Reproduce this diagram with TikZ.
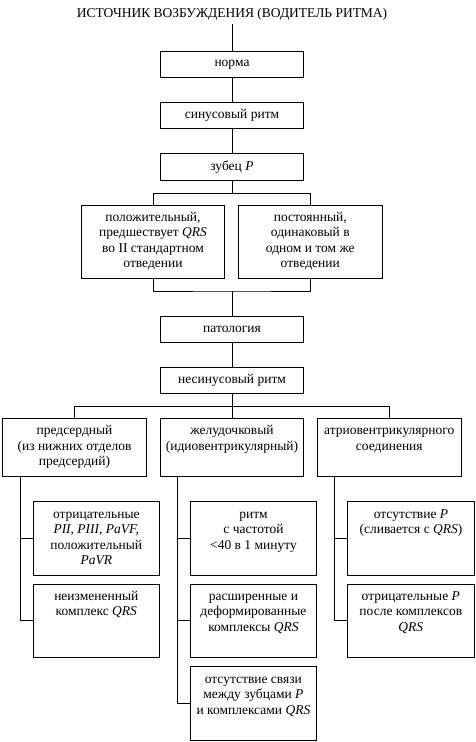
\documentclass[tikz,border=0pt]{standalone}
\usepackage{fontspec}
\setmainfont{Liberation Serif}
\newcommand\tb[3]{\parbox[c][#2pt][t]{#1pt}{\centering\vspace*{5.5pt}\strut #3\par}}
\begin{document}
\begin{tikzpicture}[x=1pt,y=-1pt,
  box/.style={draw, line width=0.8pt, inner sep=0pt},
  sbox/.style={box, minimum width=142.6pt, minimum height=26.5pt},
  ln/.style={line width=0.8pt},
  font=\fontsize{13.5}{15.5}\selectfont]
\useasboundingbox (0,0) rectangle (476,742);

\node (title) at (232,14.5) {ИСТОЧНИК ВОЗБУЖДЕНИЯ (ВОДИТЕЛЬ РИТМА)};
\node[sbox] (norma) at (232,64.35) {норма};
\node[sbox] (sinus) at (232,115.15) {синусовый ритм};
\node[sbox] (zubec) at (232,166.65) {зубец \textit{P}};
\node[box] (pol) at (153,241.65) {\tb{142.6}{73.3}{положительный,\\предшествует \textit{QRS}\\во II стандартном\\отведении}};
\node[box] (post) at (310.3,241.65) {\tb{144}{73.3}{постоянный,\\одинаковый в\\одном и том же\\отведении}};
\node[sbox] (pat) at (232,329.15) {патология};
\node[sbox] (nesin) at (232,380.3) {несинусовый ритм};
\node[box] (pred) at (74.5,447.3) {\tb{144.4}{58}{предсердный\\(из нижних отделов\\предсердий)}};
\node[box] (zhel) at (232,447.3) {\tb{143}{58}{желудочковый\\(идиовентрикулярный)}};
\node[box] (atrio) at (389.3,447.3) {\tb{144}{58}{атриовентрикулярного\\соединения}};
\node[box] (otr) at (96.3,538.35) {\tb{126}{73.3}{отрицательные\\\textit{PII, PIII, PaVF,}\\положительный\\\textit{PaVR}}};
\node[box] (neizm) at (96.3,620.65) {\tb{126}{73.3}{неизмененный\\комплекс \textit{QRS}}};
\node[box] (ritm) at (253.5,538.35) {\tb{126.4}{73.3}{ритм\\с частотой\\<40 в 1 минуту}};
\node[box] (rassh) at (253.4,620.65) {\tb{126.2}{73.3}{расширенные и\\деформированные\\комплексы \textit{QRS}}};
\node[box] (otsv) at (253.4,703.35) {\tb{126.2}{73.3}{отсутствие связи\\между зубцами \textit{P}\\и комплексами \textit{QRS}}};
\node[box] (otsP) at (411,538.35) {\tb{126.6}{73.3}{отсутствие \textit{P}\\(сливается с \textit{QRS})}};
\node[box] (otrP) at (410.8,620.65) {\tb{127}{73.3}{отрицательные \textit{P}\\после комплексов\\\textit{QRS}}};

\draw[ln] (title.south) -- (norma.north);
\draw[ln] (norma) -- (sinus);
\draw[ln] (sinus) -- (zubec);
\draw[ln] (zubec.south) -- ++(0,13) coordinate (j1);
\draw[ln] (pol.north) |- (j1) -| (post.north);
\coordinate (j2) at (232,291);
\draw[ln] (pol.south) |- (j2) -| (post.south);
\draw[ln] (j2) -- (pat.north);
\draw[ln] (pat) -- (nesin);
\draw[ln] (nesin.south) -- ++(0,12) coordinate (j3);
\draw[ln] (pred.north) |- (j3) -| (atrio.north);
\draw[ln] (j3) -- (zhel.north);

\draw[ln] ([xshift=18.4pt]pred.south west) |- (neizm.west);
\draw[ln] (otr.west) -- ++(-12.6,0);
\draw[ln] ([xshift=17.4pt]zhel.south west) |- (otsv.west);
\draw[ln] (ritm.west) -- ++(-12.6,0);
\draw[ln] (rassh.west) -- ++(-12.6,0);
\draw[ln] ([xshift=17pt]atrio.south west) |- (otrP.west);
\draw[ln] (otsP.west) -- ++(-13.4,0);
\end{tikzpicture}
\end{document}
